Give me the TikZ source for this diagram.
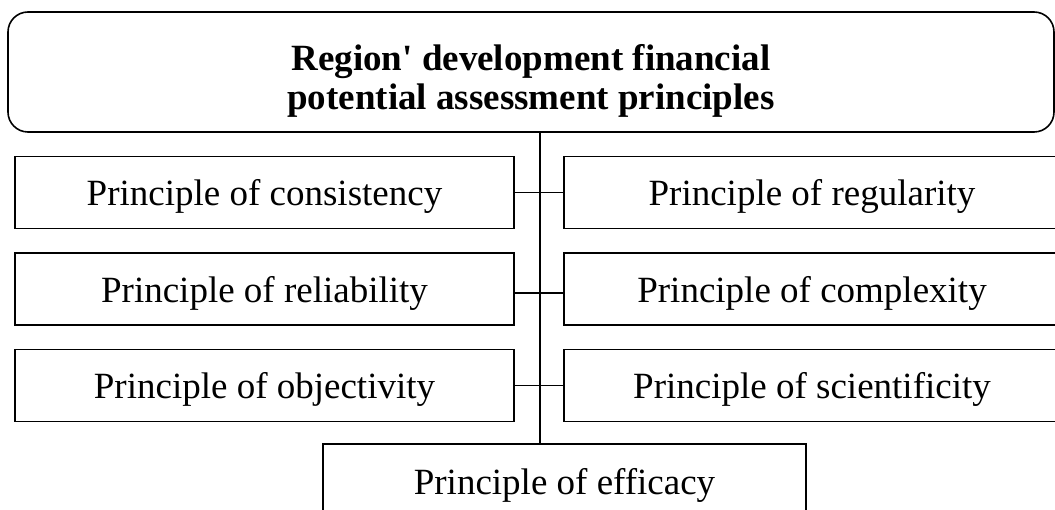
\documentclass[tikz,border=0pt]{standalone}
\usepackage{fontspec}
\setmainfont{Liberation Serif}
\begin{document}
\begin{tikzpicture}[x=1pt,y=-1pt,
  every node/.style={font=\fontsize{37}{44}\selectfont},
  box/.style={draw, line width=1.6pt, inner sep=0pt, text depth=0pt, minimum width=499pt, minimum height=72pt},
  rbox/.style={box, minimum width=496pt},
  conn/.style={line width=1.6pt}]
\useasboundingbox (0,0) rectangle (1055,510);
\node[draw, line width=1.6pt, rounded corners=20pt, minimum width=1046pt, minimum height=120pt, inner sep=0pt] (top) at (531,72) {};
\node[align=center, inner sep=0pt, font=\fontsize{37}{39}\selectfont\bfseries] (title) at (531,81)
  {Region\textquotesingle{} development financial\\potential assessment principles};
\node[box] (l1) at (264.5,192.5) {Principle of consistency};
\node[box] (l2) at (264.5,289) {Principle of reliability};
\node[box] (l3) at (264.5,385.5) {Principle of objectivity};
\node[rbox] (r1) at (812,192.5) {Principle of regularity};
\node[rbox] (r2) at (812,289) {Principle of complexity};
\node[rbox] (r3) at (812,385.5) {Principle of scientificity};
\node[box, minimum width=483pt, minimum height=75pt, anchor=north] (eff) at (564.5,443) {Principle of efficacy};
\coordinate (st) at (540,132);
\coordinate (sb) at (540,443);
\draw[conn] (st) -- (sb);
\draw[conn] (l1.east) -- (r1.west);
\draw[conn] (l2.east) ++(0,4) coordinate (c2) -- (c2 -| r2.west);
\draw[conn] (l3.east) -- (r3.west);
\end{tikzpicture}
\end{document}
